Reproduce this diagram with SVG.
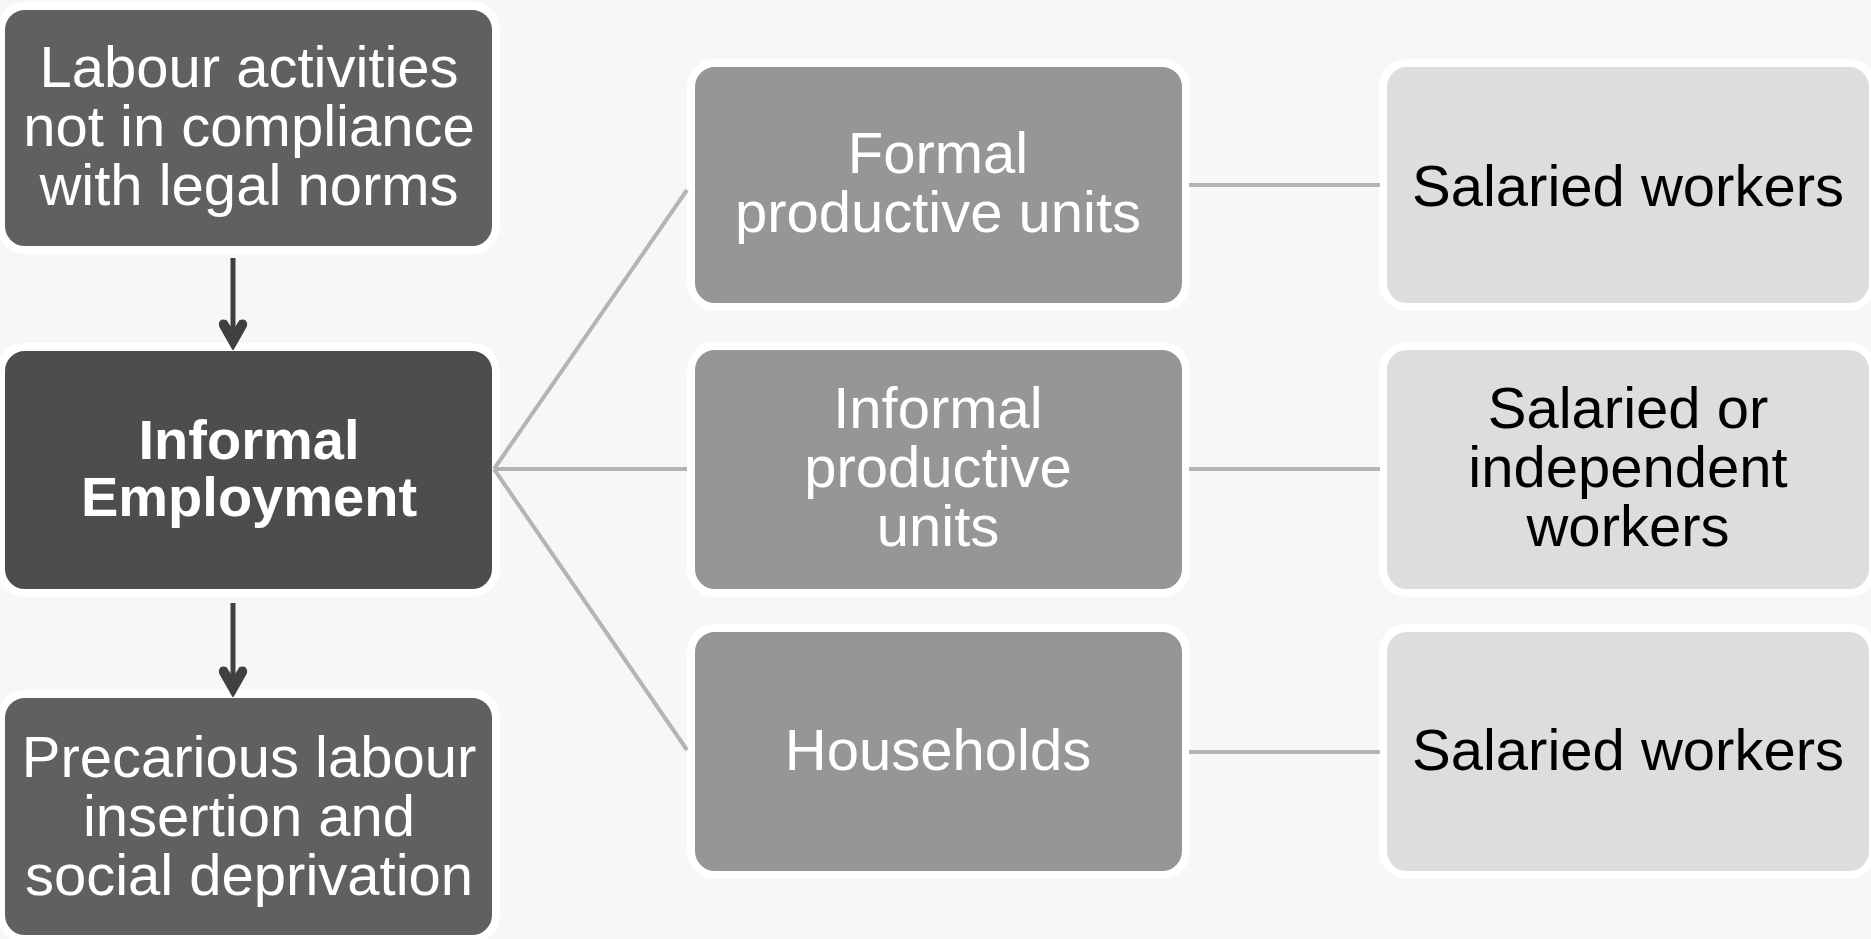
<svg xmlns="http://www.w3.org/2000/svg" width="1871" height="939" viewBox="0 0 1871 939">
<style>
.box{stroke:#ffffff;stroke-width:8}
.dark{fill:#606060}
.darker{fill:#4d4d4d}
.mid{fill:#969696}
.light{fill:#dddddd}
.t{font-family:"Liberation Sans",Arial,sans-serif;font-size:58px;text-anchor:middle}
.w{fill:#ffffff}
.k{fill:#000000}
.b{font-weight:bold;font-size:56px}
.conn{stroke:#b4b4b4;stroke-width:4;fill:none}
.arr{stroke:#404040;stroke-width:5;fill:none}
.head{fill:#404040;stroke:#404040;stroke-width:2;stroke-linejoin:round}
</style>
<rect x="0" y="0" width="1871" height="939" fill="#f7f7f7"/>

<g id="node-labour">
<rect class="box dark" x="1" y="6" width="495" height="244" rx="24"/>
<text class="t w" x="249" y="87">Labour activities</text>
<text class="t w" x="249" y="146">not in compliance</text>
<text class="t w" x="249" y="205">with legal norms</text>
</g>

<g id="node-informal-employment">
<rect class="box darker" x="1" y="347" width="495" height="246" rx="24"/>
<text class="t w b" x="249" y="459">Informal</text>
<text class="t w b" x="249" y="516">Employment</text>
</g>

<g id="node-precarious">
<rect class="box dark" x="1" y="694" width="495" height="245" rx="24"/>
<text class="t w" x="249" y="777">Precarious labour</text>
<text class="t w" x="249" y="836">insertion and</text>
<text class="t w" x="249" y="895">social deprivation</text>
</g>

<g id="node-formal-units">
<rect class="box mid" x="691" y="63" width="495" height="244" rx="24"/>
<text class="t w" x="938" y="173">Formal</text>
<text class="t w" x="938" y="232">productive units</text>
</g>

<g id="node-informal-units">
<rect class="box mid" x="691" y="346" width="495" height="247" rx="24"/>
<text class="t w" x="938" y="428">Informal</text>
<text class="t w" x="938" y="487">productive</text>
<text class="t w" x="938" y="546">units</text>
</g>

<g id="node-households">
<rect class="box mid" x="691" y="628" width="495" height="247" rx="24"/>
<text class="t w" x="938" y="770">Households</text>
</g>

<g id="node-salaried-1">
<rect class="box light" x="1383" y="63" width="490" height="244" rx="24"/>
<text class="t k" x="1628" y="206">Salaried workers</text>
</g>

<g id="node-salaried-independent">
<rect class="box light" x="1383" y="346" width="490" height="247" rx="24"/>
<text class="t k" x="1628" y="428">Salaried or</text>
<text class="t k" x="1628" y="487">independent</text>
<text class="t k" x="1628" y="546">workers</text>
</g>

<g id="node-salaried-3">
<rect class="box light" x="1383" y="628" width="490" height="247" rx="24"/>
<text class="t k" x="1628" y="770">Salaried workers</text>
</g>

<g id="connectors">
<line class="conn" x1="494" y1="469" x2="687" y2="190"/>
<line class="conn" x1="494" y1="469" x2="687" y2="469"/>
<line class="conn" x1="494" y1="469" x2="687" y2="750"/>
<line class="conn" x1="1189" y1="185" x2="1380" y2="185"/>
<line class="conn" x1="1189" y1="469" x2="1380" y2="469"/>
<line class="conn" x1="1189" y1="752" x2="1380" y2="752"/>
<line class="arr" x1="233" y1="258" x2="233" y2="334"/>
<path class="head" d="M233,349 L220,326 Q219,319 226,321 L233,332 L240,321 Q247,319 246,326 Z"/>
<line class="arr" x1="233" y1="603" x2="233" y2="681"/>
<path class="head" d="M233,696 L220,673 Q219,666 226,668 L233,679 L240,668 Q247,666 246,673 Z"/>
</g>
</svg>
